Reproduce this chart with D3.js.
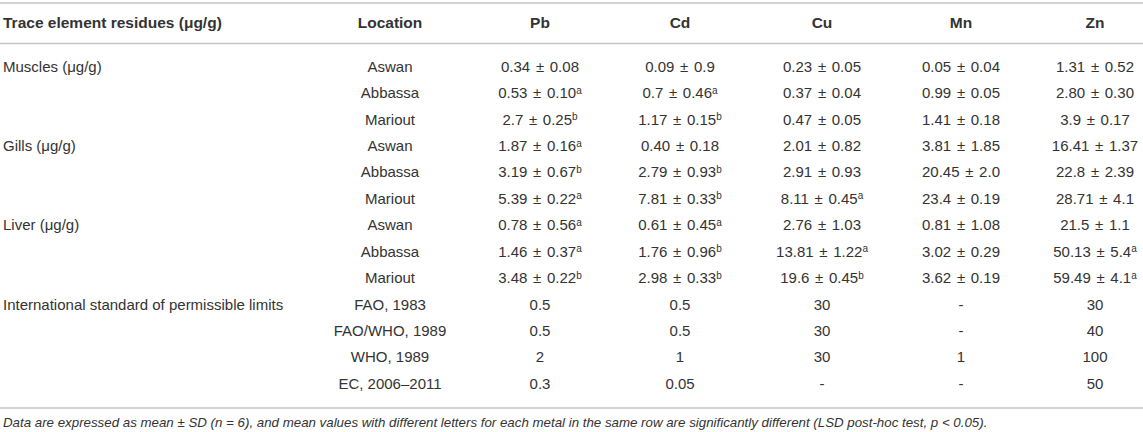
<!DOCTYPE html>
<html>
<head>
<meta charset="utf-8">
<script src="https://cdn.jsdelivr.net/npm/d3@7"></script>
<style>
  html, body { margin: 0; padding: 0; background: #fff; }
  svg text { font-family: "Liberation Sans", Arial, Helvetica, sans-serif; fill: #333; }
</style>
</head>
<body>
<svg id="svg" width="1143" height="432"></svg>
<script>
// table contents
const headers = ["Trace element residues (\u03bcg/g)", "Location", "Pb", "Cd", "Cu", "Mn", "Zn"]
const metals = ["Pb", "Cd", "Cu", "Mn", "Zn"]

const groups = ["Muscles (\u03bcg/g)", "", "", "Gills (\u03bcg/g)", "", "", "Liver (\u03bcg/g)", "", "",
    "International standard of permissible limits", "", "", ""]
const locations = ["Aswan", "Abbassa", "Mariout", "Aswan", "Abbassa", "Mariout", "Aswan", "Abbassa", "Mariout",
    "FAO, 1983", "FAO/WHO, 1989", "WHO, 1989", "EC, 2006\u20132011"]

// mean ± SD per metal (strings kept as printed), then the significance letters
const pb = ["0.34 \u00b1 0.08", "0.53 \u00b1 0.10", "2.7 \u00b1 0.25", "1.87 \u00b1 0.16", "3.19 \u00b1 0.67", "5.39 \u00b1 0.22",
    "0.78 \u00b1 0.56", "1.46 \u00b1 0.37", "3.48 \u00b1 0.22", "0.5", "0.5", "2", "0.3"]
const cd = ["0.09 \u00b1 0.9", "0.7 \u00b1 0.46", "1.17 \u00b1 0.15", "0.40 \u00b1 0.18", "2.79 \u00b1 0.93", "7.81 \u00b1 0.33",
    "0.61 \u00b1 0.45", "1.76 \u00b1 0.96", "2.98 \u00b1 0.33", "0.5", "0.5", "1", "0.05"]
const cu = ["0.23 \u00b1 0.05", "0.37 \u00b1 0.04", "0.47 \u00b1 0.05", "2.01 \u00b1 0.82", "2.91 \u00b1 0.93", "8.11 \u00b1 0.45",
    "2.76 \u00b1 1.03", "13.81 \u00b1 1.22", "19.6 \u00b1 0.45", "30", "30", "30", "-"]
const mn = ["0.05 \u00b1 0.04", "0.99 \u00b1 0.05", "1.41 \u00b1 0.18", "3.81 \u00b1 1.85", "20.45 \u00b1 2.0", "23.4 \u00b1 0.19",
    "0.81 \u00b1 1.08", "3.02 \u00b1 0.29", "3.62 \u00b1 0.19", "-", "-", "1", "-"]
const zn = ["1.31 \u00b1 0.52", "2.80 \u00b1 0.30", "3.9 \u00b1 0.17", "16.41 \u00b1 1.37", "22.8 \u00b1 2.39", "28.71 \u00b1 4.1",
    "21.5 \u00b1 1.1", "50.13 \u00b1 5.4", "59.49 \u00b1 4.1", "30", "40", "100", "50"]

const pbSig = ["", "a", "b", "a", "b", "a", "a", "a", "b", "", "", "", ""]
const cdSig = ["", "a", "b", "", "b", "b", "a", "b", "b", "", "", "", ""]
const cuSig = ["", "", "", "", "", "a", "", "a", "b", "", "", "", ""]
const mnSig = ["", "", "", "", "", "", "", "", "", "", "", "", ""]
const znSig = ["", "", "", "", "", "", "", "a", "a", "", "", "", ""]

const footnote = "Data are expressed as mean \u00b1 SD (n = 6), and mean values with different letters for each metal in the same row are significantly different (LSD post-hoc test, p < 0.05)."

const values = { Pb: pb, Cd: cd, Cu: cu, Mn: mn, Zn: zn }
const sigs = { Pb: pbSig, Cd: cdSig, Cu: cuSig, Mn: mnSig, Zn: znSig }

var svg = d3.select("svg"), width = +svg.attr("width")
var fs = "15px"

// row and column positions
var y = d3.scalePoint().domain(d3.range(locations.length)).range([66.5, 383.5])
var colX = d3.scaleOrdinal().domain(["Location"].concat(metals)).range([390, 540, 680, 822, 961, 1095])
var headerY = 22.5

// rules
const rules = [3, 43.5, 408]
svg.selectAll(".rule").data(rules).enter().append("line")
    .attr("class", "rule")
    .attr("x1", 0).attr("x2", width)
    .attr("y1", d => d).attr("y2", d => d)
    .attr("stroke", "#c4c4c4").attr("stroke-width", 1.5)

// header row
svg.selectAll(".head").data(headers).enter().append("text")
    .attr("class", "head")
    .attr("x", (d, i) => i === 0 ? 3 : colX(d))
    .attr("y", headerY)
    .attr("dy", "0.35em")
    .attr("text-anchor", (d, i) => i === 0 ? "start" : "middle")
    .style("font-size", "15.5px")
    .style("font-weight", "bold")
    .text(d => d)

// first column (organ / standard)
svg.selectAll(".group").data(groups).enter().append("text")
    .attr("class", "group")
    .attr("x", 3)
    .attr("y", (d, i) => y(i))
    .attr("dy", "0.35em")
    .style("font-size", fs)
    .text(d => d)

// locations
svg.selectAll(".loc").data(locations).enter().append("text")
    .attr("class", "loc")
    .attr("x", colX("Location"))
    .attr("y", (d, i) => y(i))
    .attr("dy", "0.35em")
    .attr("text-anchor", "middle")
    .style("font-size", fs)
    .text(d => d)

// metal columns, with superscript letters
metals.forEach(m => {
    var cell = svg.selectAll(".cell-" + m).data(values[m]).enter().append("text")
        .attr("class", "cell-" + m)
        .attr("x", colX(m))
        .attr("y", (d, i) => y(i))
        .attr("dy", "0.35em")
        .attr("text-anchor", "middle")
        .style("font-size", fs)
        .style("word-spacing", "1.5px")
    cell.append("tspan").text(d => d)
    cell.append("tspan")
        .attr("dy", "-0.45em")
        .style("font-size", "10px")
        .text((d, i) => sigs[m][i])
})

// footnote
svg.append("text")
    .attr("x", 3)
    .attr("y", 422.5)
    .attr("dy", "0.35em")
    .style("font-size", "13.3px")
    .style("font-style", "italic")
    .text(footnote)
</script>
</body>
</html>
